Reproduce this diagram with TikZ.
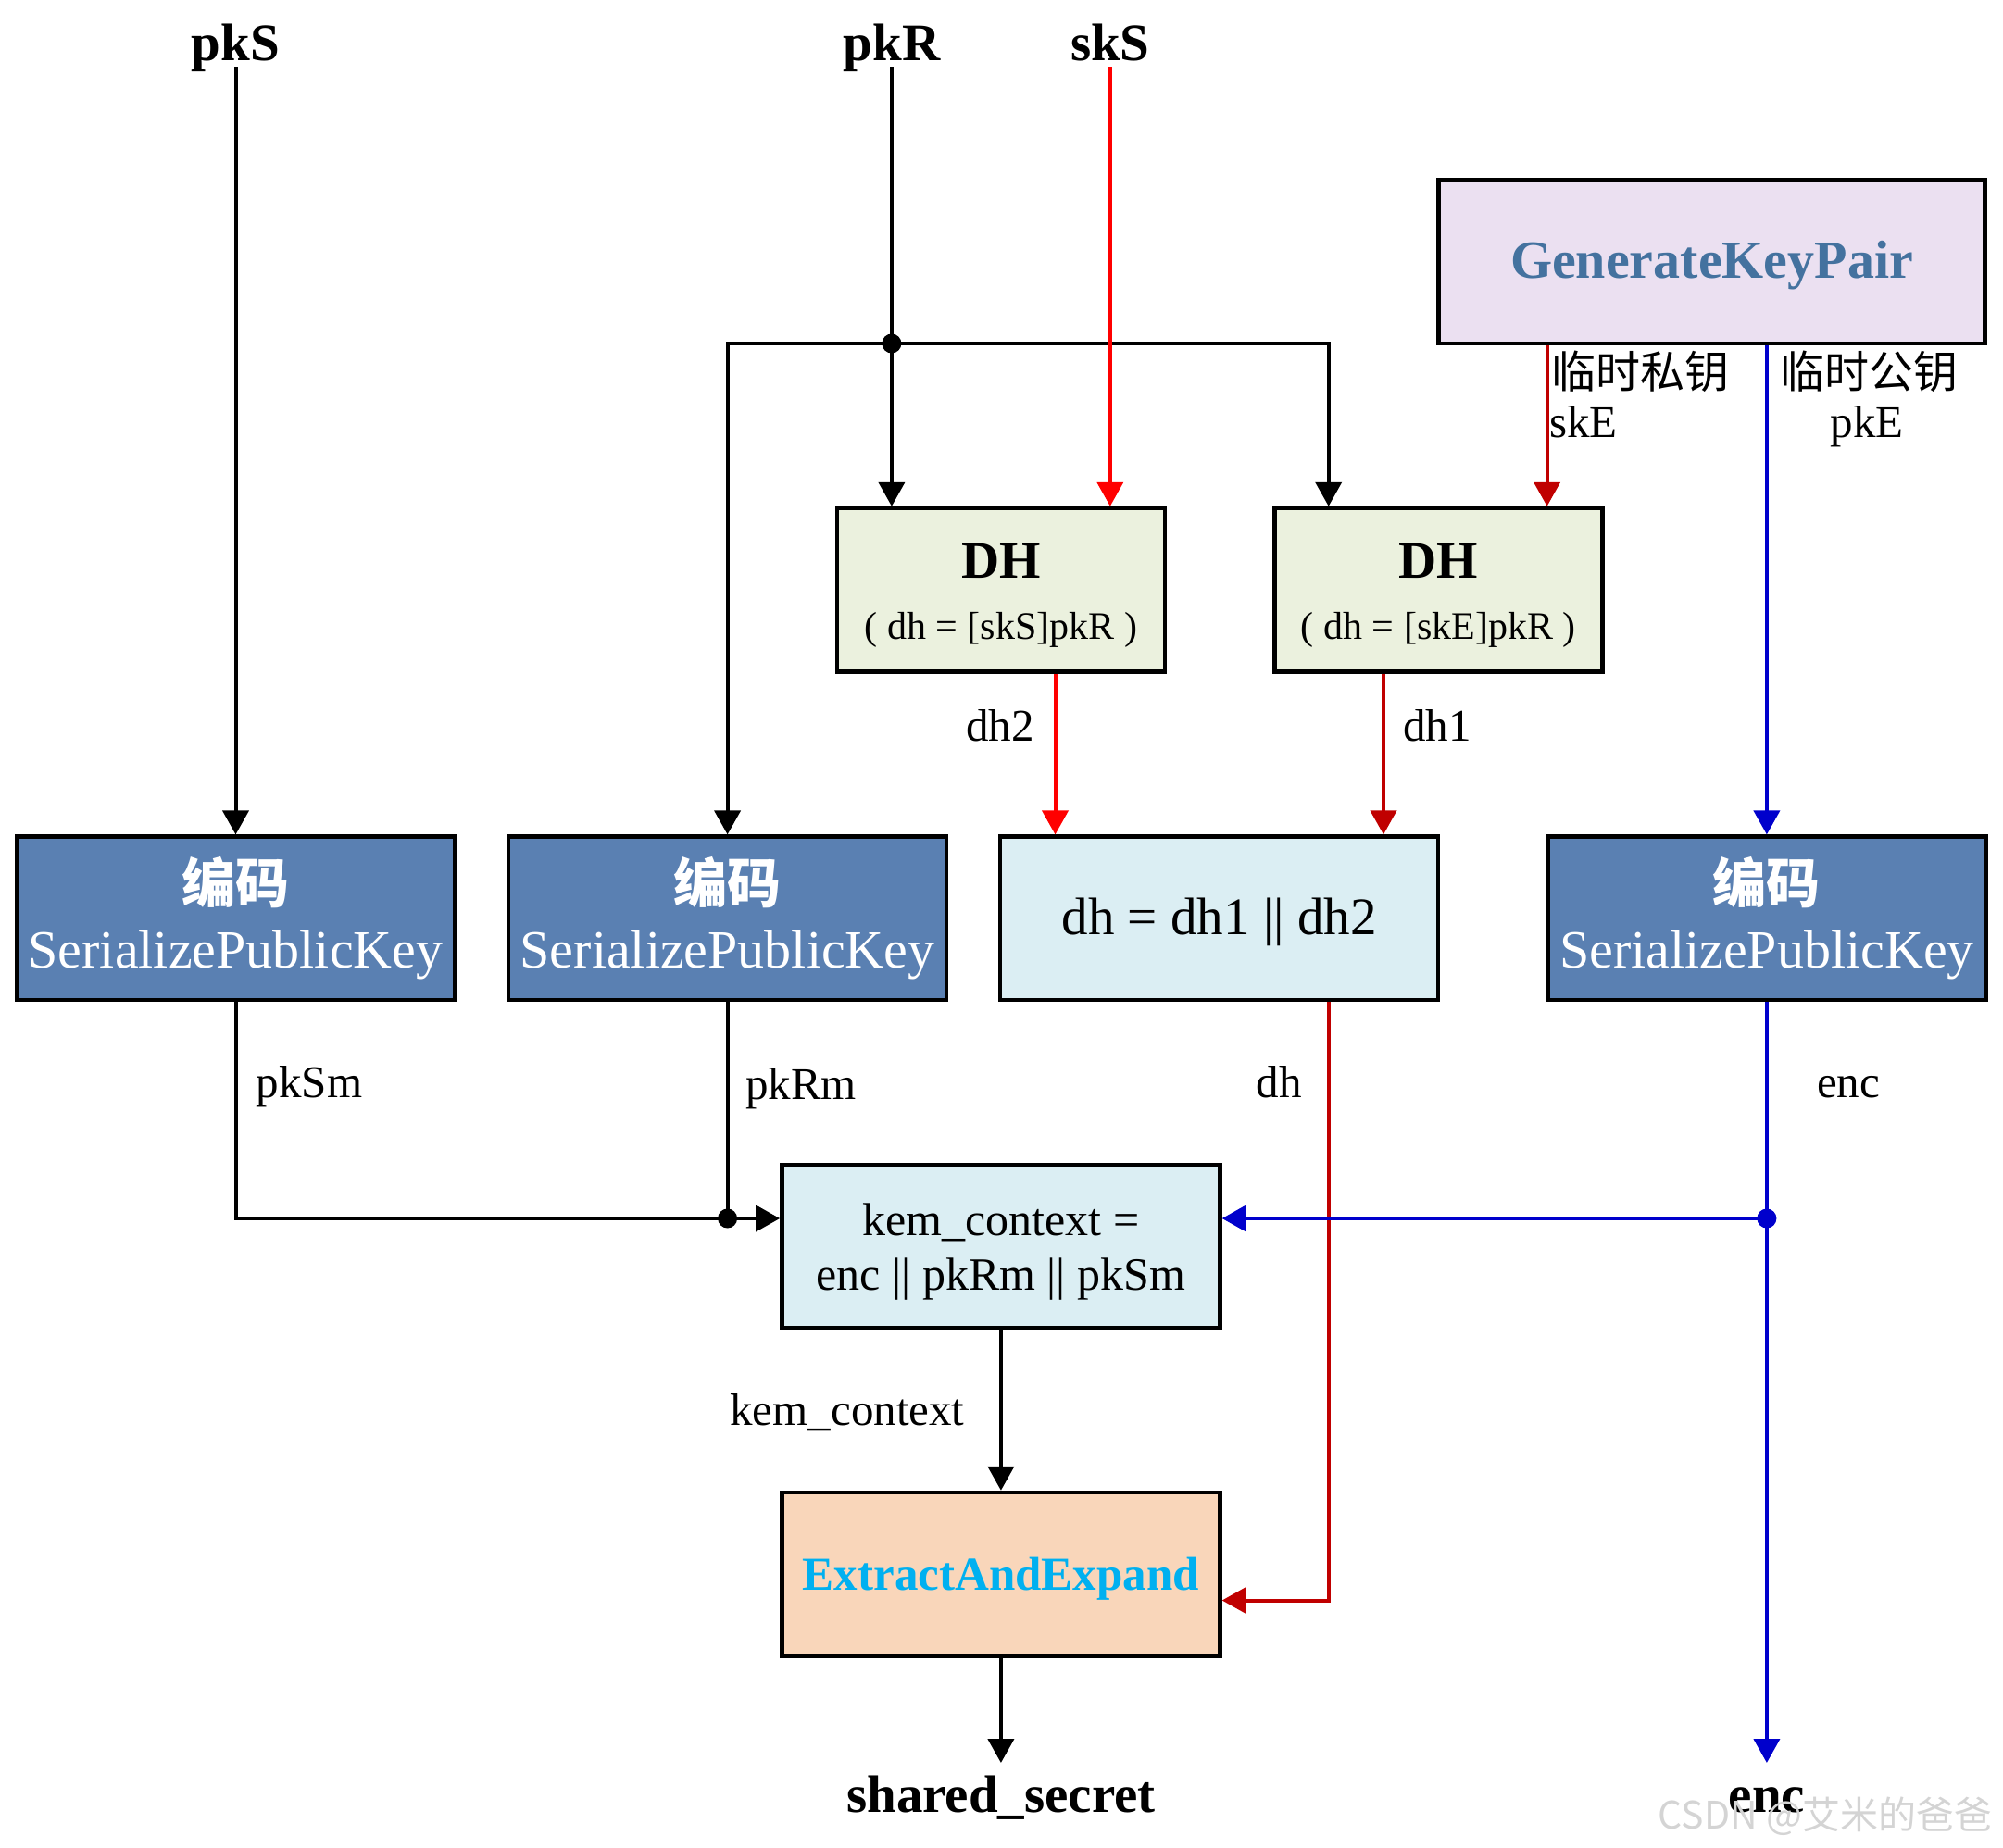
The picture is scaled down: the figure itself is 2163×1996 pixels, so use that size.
\documentclass[tikz,border=0pt]{standalone}
\usepackage{fontspec}
\setmainfont{Liberation Serif}
\newfontfamily\cjk{Noto Sans CJK SC}
\usetikzlibrary{arrows.meta}
\definecolor{spkfill}{HTML}{5A80B2}
\definecolor{dhfill}{HTML}{EBF1DE}
\definecolor{bluefill}{HTML}{DBEEF3}
\definecolor{gkpfill}{HTML}{EBE0F1}
\definecolor{gkptext}{HTML}{44729F}
\definecolor{eaefill}{HTML}{F9D6BA}
\definecolor{eaetext}{HTML}{00B0F0}
\definecolor{brred}{HTML}{FF0000}
\definecolor{dkred}{HTML}{C00000}
\definecolor{encblue}{HTML}{0000CC}
\begin{document}
\begin{tikzpicture}[x=1pt,y=-1pt,line join=miter]
\useasboundingbox (0,0) rectangle (2163,1996);
\tikzset{
  box/.style={draw=black,line width=4.5pt,inner sep=0pt,minimum height=176.5pt,align=center},
  spk/.style={box,fill=spkfill,text=white,minimum width=473pt,font=\fontsize{58}{70}\selectfont},
  dhb/.style={box,fill=dhfill,minimum width=354pt,font=\fontsize{42}{66}\selectfont},
  conn/.style={line width=4pt,-{Triangle[length=26pt,width=28pt]}},
  plainline/.style={line width=4pt},
  dot/.style={circle,fill,inner sep=0pt,minimum size=21pt},
  ttl/.style={font=\fontsize{57}{57}\selectfont\bfseries,inner sep=6pt,text depth=0pt,anchor=base},
  btm/.style={font=\fontsize{57}{57}\selectfont\bfseries,inner sep=0pt,anchor=base},
  lbl/.style={font=\fontsize{49}{55}\selectfont,inner sep=0pt},
  cjklbl/.style={font=\cjk\fontsize{48}{55}\selectfont,inner sep=0pt},
}
% titles
\node[ttl] (pkS) at (254.5,66) {pkS};
\node[ttl] (pkR) at (962.9,66) {pkR};
\node[ttl] (skS) at (1198.8,66) {skS};
% boxes
\node[box,fill=gkpfill,minimum width=590pt,text=gkptext,font=\fontsize{58}{58}\selectfont\bfseries] (gkp) at (1848.5,282.8) {\rule{0pt}{48pt}GenerateKeyPair};
\node[dhb] (dh1) at (1080.9,637.3) {\rule{0pt}{49pt}{\fontsize{57}{66}\selectfont\bfseries DH}\\( dh = [skS]pkR )};
\node[dhb] (dh2) at (1553.3,637.3) {\rule{0pt}{49pt}{\fontsize{57}{66}\selectfont\bfseries DH}\\( dh = [skE]pkR )};
\node[spk] (spk1) at (254.5,991.9) {{\cjk\bfseries 编码}\\SerializePublicKey};
\node[spk] (spk2) at (785.6,991.9) {{\cjk\bfseries 编码}\\SerializePublicKey};
\node[spk] (spk3) at (1907.9,991.9) {{\cjk\bfseries 编码}\\SerializePublicKey};
\node[box,fill=bluefill,minimum width=473pt,font=\fontsize{57}{57}\selectfont] (dhbox) at (1316.7,991.9) {\rule{0pt}{48pt}dh = dh1 \textbar\textbar{} dh2};
\node[box,fill=bluefill,minimum width=473pt,font=\fontsize{50}{59}\selectfont] (kem) at (1080.9,1346.4) {\rule{0pt}{45pt}kem\_context =\\enc \textbar\textbar{} pkRm \textbar\textbar{} pkSm};
\node[box,fill=eaefill,minimum width=473pt,text=eaetext,font=\fontsize{51}{51}\selectfont\bfseries] (eae) at (1080.9,1700.3) {\rule{0pt}{45.5pt}ExtractAndExpand};
% bottom outputs
\node[btm] (ss) at (1080.9,1957) {shared\_secret};
\node[btm] (encout) at (1907.9,1957) {enc};
\coordinate (ssin) at (1080.9,1904);
\coordinate (encin) at (1907.9,1904);
% junctions
\node[dot] (j1) at (962.9,371) {};
\node[dot] (j2) at (785.6,1316) {};
\node[dot,fill=encblue] (j3) at (1907.9,1316) {};
% connectors
\draw[conn] (pkS.south) -- (pkS.south |- spk1.north);
\draw[conn] (pkR.south) -- (pkR.south |- dh1.north);
\draw[conn] (j1.center) -| (spk2.north);
\draw[conn] (j1.center) -| (1434.7,0 |- dh2.north);
\draw[conn,brred] (skS.south) -- (skS.south |- dh1.north);
\draw[conn,dkred] (1670.6,0 |- gkp.south) -- (1670.6,0 |- dh2.north);
\draw[conn,encblue] (spk3.north |- gkp.south) -- (spk3.north);
\draw[conn,brred] (1139.5,0 |- dh1.south) -- (1139.5,0 |- dhbox.north);
\draw[conn,dkred] (1494,0 |- dh2.south) -- (1494,0 |- dhbox.north);
\draw[conn,dkred] (1434.7,0 |- dhbox.south) |- (eae.east |- 0,1728.5);
\draw[conn] (spk1.south) |- (kem.west |- j2);
\draw[plainline] (spk2.south) -- (j2.center);
\draw[conn,encblue] (spk3.south) -- (encin);
\draw[conn,encblue] (j3.center) -- (kem.east |- j3);
\draw[conn] (kem.south) -- (eae.north);
\draw[conn] (eae.south) -- (ssin);
% labels
\node[cjklbl,anchor=west] (l1) at (1675,401) {临时私钥};
\node[lbl,anchor=west] (l2) at (1673,456) {skE};
\node[cjklbl] (l3) at (2018,401) {临时公钥};
\node[lbl] (l4) at (2016,461) {pkE};
\node[lbl] (l5) at (1080,784) {dh2};
\node[lbl] (l6) at (1552,784) {dh1};
\node[lbl] (l7) at (334,1174) {pkSm};
\node[lbl] (l8) at (865,1176) {pkRm};
\node[lbl] (l9) at (1381,1169) {dh};
\node[lbl] (l10) at (1996,1174) {enc};
\node[lbl] (l11) at (915,1526) {kem\_context};
% watermark
\node[font=\cjk\fontsize{41}{41}\selectfont,text=black!17,inner sep=0pt] (wm) at (1971,1962) {CSDN @艾米的爸爸};
\end{tikzpicture}
\end{document}
